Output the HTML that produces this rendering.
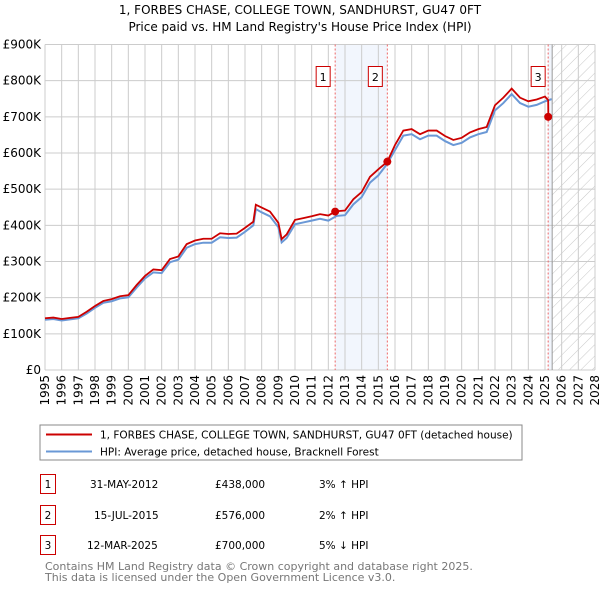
<!DOCTYPE html>
<html><head><meta charset="utf-8">
<style>
body{margin:0;background:#fff;font-family:"Liberation Sans","DejaVu Sans",sans-serif;}
svg text{font-family:"DejaVu Sans","Liberation Sans",sans-serif;}
</style></head>
<body>
<svg id="chart" width="600" height="590" xmlns="http://www.w3.org/2000/svg">
<defs>
<pattern id="hatch" patternUnits="userSpaceOnUse" width="8" height="8" patternTransform="rotate(45)">
<line x1="0" y1="0" x2="0" y2="8" stroke="#c8c8c8" stroke-width="1"/>
</pattern>
</defs>
<text x="300" y="14" text-anchor="middle" font-size="12">1, FORBES CHASE, COLLEGE TOWN, SANDHURST, GU47 0FT</text>
<text x="300" y="31" text-anchor="middle" font-size="12">Price paid vs. HM Land Registry's House Price Index (HPI)</text>
<g id="grid"></g>
<g id="marks"></g>
<g id="axes"></g>
<rect x="40" y="425" width="482" height="35" fill="#fff" stroke="#888"/>
<line x1="46" y1="434.5" x2="92" y2="434.5" stroke="#cc0000" stroke-width="2"/>
<text x="100" y="438.5" font-size="10.5">1, FORBES CHASE, COLLEGE TOWN, SANDHURST, GU47 0FT (detached house)</text>
<line x1="46" y1="451.5" x2="92" y2="451.5" stroke="#6a98d6" stroke-width="2"/>
<text x="100" y="455.5" font-size="10.5">HPI: Average price, detached house, Bracknell Forest</text>
<g font-size="10.5">
<rect x="40.5" y="474.5" width="15" height="19" fill="#fff" stroke="#cc0000"/><text x="48" y="488" text-anchor="middle">1</text>
<text x="90" y="488">31-MAY-2012</text><text x="215" y="488">£438,000</text><text x="319" y="488">3% ↑ HPI</text>
<rect x="40.5" y="505.5" width="15" height="19" fill="#fff" stroke="#cc0000"/><text x="48" y="519" text-anchor="middle">2</text>
<text x="94" y="519">15-JUL-2015</text><text x="215" y="519">£576,000</text><text x="319" y="519">2% ↑ HPI</text>
<rect x="40.5" y="535.5" width="15" height="19" fill="#fff" stroke="#cc0000"/><text x="48" y="549" text-anchor="middle">3</text>
<text x="87" y="549">12-MAR-2025</text><text x="215" y="549">£700,000</text><text x="319" y="549">5% ↓ HPI</text>
</g>
<text x="45" y="570" font-size="11" fill="#777">Contains HM Land Registry data © Crown copyright and database right 2025.</text>
<text x="45" y="581" font-size="11" fill="#777">This data is licensed under the Open Government Licence v3.0.</text>
</svg>
<script>
const hpiYears=[1995,1995.5,1996,1996.5,1997,1997.5,1998,1998.5,1999,1999.5,2000,2000.5,2001,2001.5,2002,2002.5,2003,2003.5,2004,2004.5,2005,2005.5,2006,2006.5,2007,2007.5,2007.65,2008,2008.5,2009,2009.2,2009.5,2010,2010.5,2011,2011.5,2012,2012.5,2013,2013.5,2014,2014.5,2015,2015.5,2016,2016.5,2017,2017.5,2018,2018.5,2019,2019.5,2020,2020.5,2021,2021.5,2022,2022.5,2023,2023.5,2024,2024.5,2025,2025.4];
const hpiValues=[139,141,137,140,143,156,172,186,190,198,201,228,253,270,268,298,305,338,348,352,352,367,365,366,382,400,445,436,425,395,353,365,403,408,413,418,413,426,428,458,478,518,538,568,608,648,652,638,648,648,633,622,628,643,652,658,718,738,763,738,728,733,743,749];
const ppYears=[1995,1995.5,1996,1996.5,1997,1997.5,1998,1998.5,1999,1999.5,2000,2000.5,2001,2001.5,2002,2002.5,2003,2003.5,2004,2004.5,2005,2005.5,2006,2006.5,2007,2007.5,2007.65,2008,2008.5,2009,2009.2,2009.5,2010,2010.5,2011,2011.5,2012,2012.41,2012.5,2013,2013.5,2014,2014.5,2015,2015.54,2016,2016.5,2017,2017.5,2018,2018.5,2019,2019.5,2020,2020.5,2021,2021.5,2022,2022.5,2023,2023.5,2024,2024.5,2025,2025.19,2025.2];
const ppValues=[143,145,141,144,147,161,177,191,196,204,207,235,260,278,276,307,314,348,358,363,363,378,376,377,393,410,457,449,438,407,362,375,415,420,425,431,427,438,439,441,472,492,534,555,576,622,662,666,652,662,662,647,636,642,657,666,672,732,753,778,753,743,748,756,746,700];
const saleYears=[2012.41,2015.54,2025.19];
const saleValues=[438,576,700];
const saleLabels=["1","2","3"];
const yTicks=[0,100,200,300,400,500,600,700,800,900];
const yTickLabels=["£0","£100K","£200K","£300K","£400K","£500K","£600K","£700K","£800K","£900K"];
const xTicks=[1995,1996,1997,1998,1999,2000,2001,2002,2003,2004,2005,2006,2007,2008,2009,2010,2011,2012,2013,2014,2015,2016,2017,2018,2019,2020,2021,2022,2023,2024,2025,2026,2027,2028];
const futureStart=2025.43;

const L=45,R=595,T=44.5,B=370;
const X=y=>L+(y-1995)/(2028-1995)*(R-L);
const Y=v=>B-v/900*(B-T);
const NS='http://www.w3.org/2000/svg';
function mk(tag,attrs,parent,txt){const e=document.createElementNS(NS,tag);for(const k in attrs)e.setAttribute(k,attrs[k]);if(txt!==undefined)e.textContent=txt;parent.appendChild(e);return e;}
const grid=document.getElementById('grid'),marks=document.getElementById('marks'),axes=document.getElementById('axes');
let sh=mk('rect',{x:X(saleYears[0]),y:T,width:X(saleYears[1])-X(saleYears[0]),height:B-T,fill:'#f2f6fd'},grid);


let sh3=mk('rect',{x:X(saleYears[2]),y:T,width:X(futureStart)-X(saleYears[2]),height:B-T,fill:'#f2f6fd'},grid);


let fut=mk('rect',{x:X(futureStart),y:T,width:R-X(futureStart),height:B-T,fill:'url(#hatch)'},grid);


yTicks.forEach((v,i)=>{
  let l=mk('line',{x1:L,x2:R,y1:Y(v),y2:Y(v),stroke:'#cccccc'},grid);
  
  
  let t=mk('text',{x:L-4,y:Y(v)+4,'text-anchor':'end','font-size':'12'},axes,yTickLabels[i]);
  
  
});
xTicks.forEach(y=>{
  let l=mk('line',{x1:X(y),x2:X(y),y1:T,y2:B,stroke:'#cccccc'},grid);
  
  
  let t=mk('text',{x:0,y:0,transform:`translate(${X(y)+4},${B+5}) rotate(-90)`,'text-anchor':'end','font-size':'12'},axes,String(y));
  
  
});
let fl=mk('line',{x1:X(futureStart),x2:X(futureStart),y1:T,y2:B,stroke:'#999'},grid);


saleYears.forEach((y,i)=>{
  let l=mk('line',{x1:X(y),x2:X(y),y1:T,y2:B,stroke:'#ee6666','stroke-dasharray':'2,2'},grid);
  
  
});
let hp=mk('polyline',{points:hpiYears.map((y,i)=>X(y)+','+Y(hpiValues[i])).join(' '),fill:'none',stroke:'#6a98d6','stroke-width':'2'},marks);


let pp=mk('polyline',{points:ppYears.map((y,i)=>X(y)+','+Y(ppValues[i])).join(' '),fill:'none',stroke:'#cc0000','stroke-width':'1.8'},marks);


saleYears.forEach((y,i)=>{
  let c=mk('circle',{cx:X(y),cy:Y(saleValues[i]),r:4,fill:'#cc0000'},marks);
  
  
  let bx=X(y)-(i==2?10:12);
  let r=mk('rect',{x:bx-7,y:66.5,width:14,height:20,fill:'#fff',stroke:'#cc0000'},marks);
  
  
  let t=mk('text',{x:bx,y:81,'text-anchor':'middle','font-size':'11'},marks,saleLabels[i]);
  
  
});
</script>
</body></html>
